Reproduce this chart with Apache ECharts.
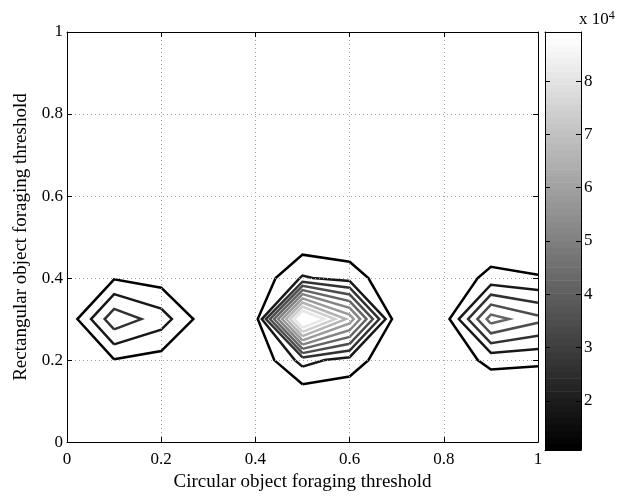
<!DOCTYPE html>
<html>
<head>
<meta charset="utf-8">
<script src="https://cdn.jsdelivr.net/npm/echarts@6/dist/echarts.min.js"></script>
<style>
html,body{margin:0;padding:0;background:#fff;}
#chart{width:639px;height:497px;}
</style>
</head>
<body>
<div id="chart"></div>
<script>
// Grid coordinates of the sampled surface
const xGrid = [0, 0.1, 0.2, 0.3, 0.4, 0.5, 0.6, 0.7, 0.8, 0.9, 1.0];
const yGrid = [0, 0.1, 0.2, 0.3, 0.4, 0.5, 0.6, 0.7, 0.8, 0.9, 1.0];

// Surface values (x 10^4), one row per y value, columns follow xGrid
const zY00 = [0.3, 0.3, 0.3, 0.3, 0.3, 0.3, 0.3, 0.3, 0.3, 0.3, 0.3];
const zY01 = [0.3, 0.3, 0.3, 0.3, 0.3, 0.333, 0.4, 0.3, 0.3, 0.377, 0.4];
const zY02 = [0.3, 1.04, 0.75, 0.3, 0.363, 2.156, 1.533, 0.4, 0.54, 1.29, 1.2];
const zY03 = [0.486, 3.189, 2.256, 0.533, 0.63, 9.704, 6.3, 0.5, 0.6, 4.573, 3.65];
const zY04 = [0.3, 1.01, 0.72, 0.3, 0.42, 1.956, 1.53, 0.4, 0.417, 1.338, 1.139];
const zY05 = [0.3, 0.3, 0.3, 0.3, 0.3, 0.42, 0.4, 0.3, 0.3, 0.4, 0.4];
const zY06 = [0.3, 0.3, 0.3, 0.3, 0.3, 0.3, 0.3, 0.3, 0.3, 0.3, 0.3];
const zY07 = [0.3, 0.3, 0.3, 0.3, 0.3, 0.3, 0.3, 0.3, 0.3, 0.3, 0.3];
const zY08 = [0.3, 0.3, 0.3, 0.3, 0.3, 0.3, 0.3, 0.3, 0.3, 0.3, 0.3];
const zY09 = [0.3, 0.3, 0.3, 0.3, 0.3, 0.3, 0.3, 0.3, 0.3, 0.3, 0.3];
const zY10 = [0.3, 0.3, 0.3, 0.3, 0.3, 0.3, 0.3, 0.3, 0.3, 0.3, 0.3];

// Contour levels (x 10^4) and colour bar
const contourLevels = [1.08, 1.864, 2.648, 3.432, 4.216, 5.0, 5.784, 6.568, 7.352, 8.136, 8.92];
const colorbarRange = [1.08, 8.92];
const colorbarTicks = [2, 3, 4, 5, 6, 7, 8];
const axisTickValues = [0, 0.2, 0.4, 0.6, 0.8, 1];

const xTitle = 'Circular object foraging threshold';
const yTitle = 'Rectangular object foraging threshold';

const zGrid = [zY00, zY01, zY02, zY03, zY04, zY05, zY06, zY07, zY08, zY09, zY10];

// Marching squares: returns polylines in data coordinates
function contourChains(Z, xs, ys, L) {
  const nx = xs.length, ny = ys.length;
  const pts = {}, adj = {};
  function edgePt(key, xa, ya, va, xb, yb, vb) {
    if (!pts[key]) {
      const t = (L - va) / (vb - va);
      pts[key] = [xa + t * (xb - xa), ya + t * (yb - ya)];
    }
    return key;
  }
  function link(a, b) {
    (adj[a] = adj[a] || []).push(b);
    (adj[b] = adj[b] || []).push(a);
  }
  for (let j = 0; j < ny - 1; j++) {
    for (let i = 0; i < nx - 1; i++) {
      const v00 = Z[j][i], v10 = Z[j][i + 1], v01 = Z[j + 1][i], v11 = Z[j + 1][i + 1];
      const cr = [];
      if ((v00 >= L) !== (v10 >= L)) cr.push(edgePt('h' + i + '_' + j, xs[i], ys[j], v00, xs[i + 1], ys[j], v10));
      if ((v10 >= L) !== (v11 >= L)) cr.push(edgePt('v' + (i + 1) + '_' + j, xs[i + 1], ys[j], v10, xs[i + 1], ys[j + 1], v11));
      if ((v01 >= L) !== (v11 >= L)) cr.push(edgePt('h' + i + '_' + (j + 1), xs[i], ys[j + 1], v01, xs[i + 1], ys[j + 1], v11));
      if ((v00 >= L) !== (v01 >= L)) cr.push(edgePt('v' + i + '_' + j, xs[i], ys[j], v00, xs[i], ys[j + 1], v01));
      if (cr.length === 2) link(cr[0], cr[1]);
      else if (cr.length === 4) {
        const c = (v00 + v10 + v01 + v11) / 4;
        if ((c >= L) === (v00 >= L)) { link(cr[0], cr[1]); link(cr[2], cr[3]); }
        else { link(cr[0], cr[3]); link(cr[1], cr[2]); }
      }
    }
  }
  const used = new Set();
  const chains = [];
  function walk(start) {
    const chain = [start];
    used.add(start);
    let prev = null, cur = start;
    while (true) {
      const nb = adj[cur].filter(k => k !== prev && !used.has(k));
      if (!nb.length) {
        if (chain.length > 2 && adj[cur].indexOf(start) >= 0) chain.push(start);
        break;
      }
      prev = cur; cur = nb[0]; used.add(cur); chain.push(cur);
    }
    return chain.map(k => pts[k]);
  }
  const keys = Object.keys(adj);
  keys.filter(k => adj[k].length === 1).forEach(k => { if (!used.has(k)) chains.push(walk(k)); });
  keys.forEach(k => { if (!used.has(k)) chains.push(walk(k)); });
  return chains;
}

// MATLAB-like gray(64) colormap lookup
function grayColor(v) {
  const f = (v - colorbarRange[0]) / (colorbarRange[1] - colorbarRange[0]);
  const idx = Math.max(1, Math.min(64, Math.floor(f * 64 + 1e-9) + 1));
  const g = Math.round((idx - 1) / 63 * 255);
  return 'rgb(' + g + ',' + g + ',' + g + ')';
}

const FONT = 'Liberation Serif';
const txt = { fontFamily: FONT, fontSize: 17, color: '#000', fontWeight: 'normal' };
const titleTxt = { fontFamily: FONT, fontSize: 19, color: '#000', fontWeight: 'normal' };

const series = [];
contourLevels.forEach(L => {
  contourChains(zGrid, xGrid, yGrid, L).forEach(chain => {
    series.push({
      type: 'line',
      xAxisIndex: 0,
      yAxisIndex: 0,
      data: chain,
      showSymbol: false,
      symbol: 'none',
      silent: true,
      clip: true,
      z: 3,
      lineStyle: { color: grayColor(L), width: 2.5, join: 'miter', cap: 'butt' }
    });
  });
});

// Colour bar as 64 bands between colorbar min and max
series.push({
  type: 'custom',
  xAxisIndex: 2,
  yAxisIndex: 2,
  silent: true,
  z: 1,
  encode: { x: [0, 2], y: [1, 3] },
  data: [[0, colorbarRange[0], 1, colorbarRange[1]]],
  renderItem: function (params, api) {
    const p0 = api.coord([api.value(0), api.value(1)]);
    const p1 = api.coord([api.value(2), api.value(3)]);
    const n = 64;
    const h = (p0[1] - p1[1]) / n;
    const children = [];
    for (let k = 0; k < n; k++) {
      const g = Math.round(k / 63 * 255);
      children.push({
        type: 'rect',
        shape: { x: p0[0], y: p0[1] - (k + 1) * h, width: p1[0] - p0[0], height: h + 0.6 },
        style: { fill: 'rgb(' + g + ',' + g + ',' + g + ')' }
      });
    }
    return { type: 'group', children: children };
  }
});

const blackLine = { show: true, onZero: false, lineStyle: { color: '#000', width: 1 } };
const inTick = { show: true, inside: true, length: 5, lineStyle: { color: '#000', width: 1 } };
const dotted = { show: true, lineStyle: { color: '#a0a0a0', width: 1, type: [1, 3] } };

const option = {
  animation: false,
  backgroundColor: '#fff',
  title: {
    text: '{a|x 10}{b|4}',
    left: 579,
    top: 10,
    padding: 0,
    textStyle: {
      fontWeight: 'normal',
      rich: {
        a: { fontFamily: FONT, fontSize: 17, color: '#000', fontWeight: 'normal', lineHeight: 20 },
        b: { fontFamily: FONT, fontSize: 12, color: '#000', fontWeight: 'normal', verticalAlign: 'top', lineHeight: 12 }
      }
    }
  },
  grid: [
    { left: 67, top: 32, width: 471, height: 418, show: false },
    { left: 545, top: 32, width: 36, height: 418, show: false }
  ],
  xAxis: [
    {
      type: 'value', gridIndex: 0, position: 'bottom', min: 0, max: 1, interval: 0.2,
      axisLine: blackLine, axisTick: inTick,
      axisLabel: Object.assign({ margin: 9, customValues: axisTickValues }, txt),
      splitLine: dotted,
      name: xTitle, nameLocation: 'middle', nameGap: 15, nameTextStyle: titleTxt, z: 5
    },
    {
      type: 'value', gridIndex: 0, position: 'top', min: 0, max: 1, interval: 0.2,
      axisLine: blackLine, axisTick: inTick, axisLabel: { show: false }, splitLine: { show: false }, z: 5
    },
    {
      type: 'value', gridIndex: 1, position: 'bottom', min: 0, max: 1,
      axisLine: blackLine, axisTick: { show: false }, axisLabel: { show: false }, splitLine: { show: false }, z: 5
    },
    {
      type: 'value', gridIndex: 1, position: 'top', min: 0, max: 1,
      axisLine: blackLine, axisTick: { show: false }, axisLabel: { show: false }, splitLine: { show: false }, z: 5
    }
  ],
  yAxis: [
    {
      type: 'value', gridIndex: 0, position: 'left', min: 0, max: 1, interval: 0.2,
      axisLine: blackLine, axisTick: inTick,
      axisLabel: Object.assign({ margin: 4, customValues: axisTickValues }, txt),
      splitLine: dotted,
      name: yTitle, nameLocation: 'middle', nameGap: 28, nameTextStyle: titleTxt, z: 5
    },
    {
      type: 'value', gridIndex: 0, position: 'right', min: 0, max: 1, interval: 0.2,
      axisLine: blackLine, axisTick: inTick, axisLabel: { show: false }, splitLine: { show: false }, z: 5
    },
    {
      type: 'value', gridIndex: 1, position: 'left', min: colorbarRange[0], max: colorbarRange[1],
      axisLine: blackLine,
      axisTick: Object.assign({}, inTick, { customValues: colorbarTicks }),
      axisLabel: { show: false }, splitLine: { show: false }, z: 5
    },
    {
      type: 'value', gridIndex: 1, position: 'right', min: colorbarRange[0], max: colorbarRange[1],
      axisLine: blackLine,
      axisTick: Object.assign({}, inTick, { customValues: colorbarTicks }),
      axisLabel: Object.assign({ margin: 3, customValues: colorbarTicks }, txt),
      splitLine: { show: false }, z: 5
    }
  ],
  series: series
};

const chart = echarts.init(document.getElementById('chart'), null, { renderer: 'canvas' });
chart.setOption(option);
</script>
</body>
</html>
